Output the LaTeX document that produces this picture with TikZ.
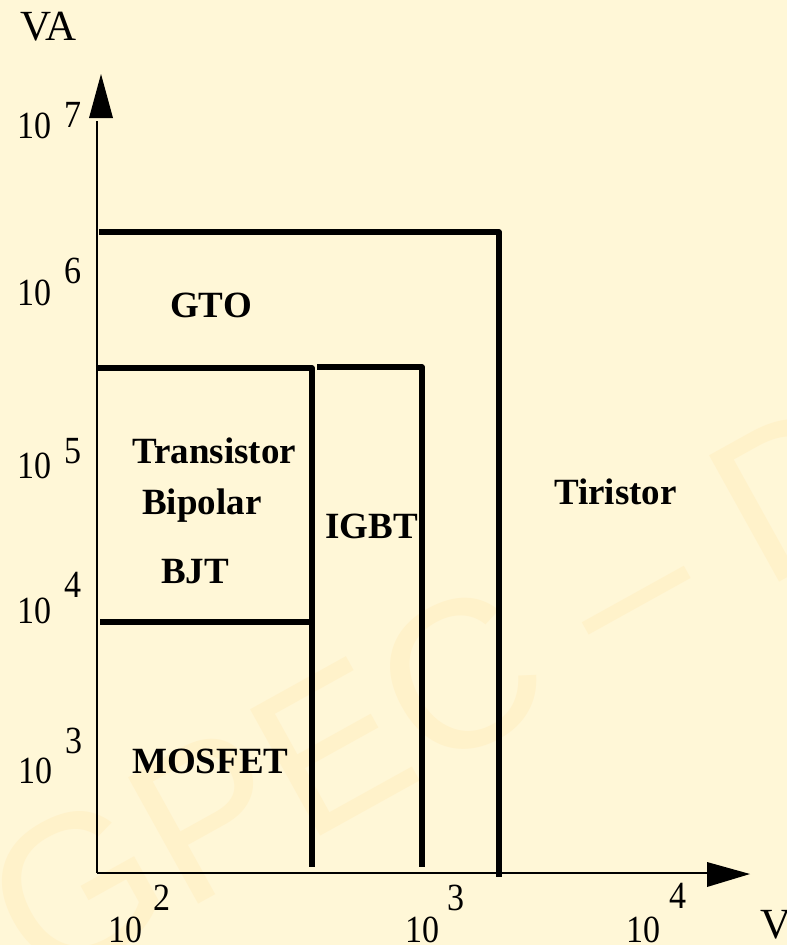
\documentclass[tikz,border=0pt]{standalone}
\usepackage{fontspec}
\setmainfont{Liberation Serif}
\newfontfamily\wmfont{Liberation Sans}
\definecolor{bgc}{RGB}{255,247,215}
\definecolor{wmc}{RGB}{255,242,202}
\newcommand{\tk}[1]{\scalebox{1}[1.13]{#1}}
\begin{document}
\begin{tikzpicture}[x=1pt,y=-1pt,
  axisline/.style={line width=1.4pt,black},
  bound/.style={line width=5.5pt,black,line join=round},
  tick/.style={inner sep=0pt,anchor=base west,font=\fontsize{34}{34}\selectfont},
  unit/.style={inner sep=0pt,anchor=base west,font=\fontsize{43}{43}\selectfont},
  devlabel/.style={inner sep=0pt,anchor=base west,font=\fontsize{37}{37}\selectfont\bfseries},
  arrowhead/.style={fill=black,draw=none}]
\fill[bgc] (0,0) rectangle (787,945);
\useasboundingbox (0,0) rectangle (787,945);
% watermark
\node[inner sep=0pt,anchor=base west,rotate=29,text=wmc,font=\fontsize{210}{210}\selectfont\wmfont] (wm) at (40,992) {GPEC – D};
% axes
\coordinate (O) at (97,873);
\coordinate (ytop) at (97,121);
\coordinate (xend) at (707,873);
\draw[axisline] (O) -- (ytop);
\draw[axisline] (O) -- (xend);
\fill[arrowhead] (89,118) -- (113,118) -- (101,74) -- cycle;
\fill[arrowhead] (707,862) -- (707,887) -- (750,874) -- cycle;
% boundaries
\coordinate (g1) at (99,232);
\coordinate (g2) at (499,232);
\coordinate (g3) at (499,877);
\draw[bound] (g1) -- (g2) -- (g3);
\coordinate (b1) at (97,368);
\coordinate (b2) at (312,368);
\coordinate (b3) at (312,867);
\draw[bound] (b1) -- (b2) -- (b3);
\coordinate (m1) at (100,622);
\coordinate (m2) at (310,622);
\draw[bound] (m1) -- (m2);
\coordinate (i1) at (317,367);
\coordinate (i2) at (422,367);
\coordinate (i3) at (422,867);
\draw[bound] (i1) -- (i2) -- (i3);
% axis labels
\node[unit] (va) at (20,40) {VA};
\node[unit] (v) at (760,938) {V};
% y ticks
\node[tick] (y7) at (17,138) {\tk{10}};
\node[tick] (y7e) at (64,127) {\tk{7}};
\node[tick] (y6) at (17,305) {\tk{10}};
\node[tick] (y6e) at (64,283) {\tk{6}};
\node[tick] (y5) at (17,478) {\tk{10}};
\node[tick] (y5e) at (64,463) {\tk{5}};
\node[tick] (y4) at (17,623) {\tk{10}};
\node[tick] (y4e) at (64,597) {\tk{4}};
\node[tick] (y3) at (18,783) {\tk{10}};
\node[tick] (y3e) at (65,753) {\tk{3}};
% x ticks
\node[tick] (x2) at (108,942) {\tk{10}};
\node[tick] (x2e) at (153,910) {\tk{2}};
\node[tick] (x3) at (405,942) {\tk{10}};
\node[tick] (x3e) at (447,910) {\tk{3}};
\node[tick] (x4) at (626,942) {\tk{10}};
\node[tick] (x4e) at (669,908) {\tk{4}};
% device labels
\node[devlabel] (gto) at (170,317) {GTO};
\node[devlabel] (tr) at (132,463) {Transistor};
\node[devlabel] (bp) at (142,514) {Bipolar};
\node[devlabel] (bjt) at (161,583) {BJT};
\node[devlabel] (igbt) at (325,538) {IGBT};
\node[devlabel] (tir) at (554,504) {Tiristor};
\node[devlabel] (mos) at (132,773) {MOSFET};
\end{tikzpicture}
\end{document}
